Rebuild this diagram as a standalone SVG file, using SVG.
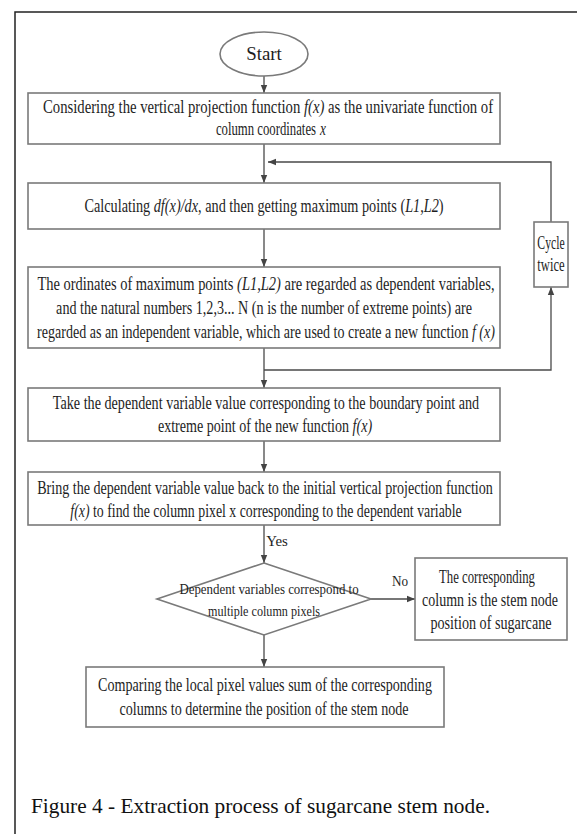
<svg xmlns="http://www.w3.org/2000/svg" width="577" height="834" viewBox="0 0 577 834">
<defs>
<marker id="ah" markerWidth="8" markerHeight="8" refX="8" refY="4" orient="auto" markerUnits="userSpaceOnUse">
<path d="M0,0.8 L8,4 L0,7.2 Z" fill="#444"/>
</marker>
<style>
.box{fill:#fff;stroke:#7a7a7a;stroke-width:1.6}
.t{font-family:"Liberation Serif","Times New Roman",serif;font-size:19px;fill:#1e1e1e;text-anchor:middle}
.s{font-size:15px}
.i{font-style:italic}
.c{fill:none;stroke:#4a4a4a;stroke-width:1.3}
</style>
</defs>
<rect width="577" height="834" fill="#fff"/>
<path d="M15,834 V12 H577" fill="none" stroke="#222" stroke-width="1.5"/>

<g id="connectors">
<line class="c" x1="264" y1="76" x2="264" y2="93" marker-end="url(#ah)"/>
<line class="c" x1="264" y1="144" x2="264" y2="183" marker-end="url(#ah)"/>
<polyline class="c" points="551,222 551,162 268,162" marker-end="url(#ah)"/>
<line class="c" x1="264" y1="229" x2="264" y2="267" marker-end="url(#ah)"/>
<line class="c" x1="264" y1="348" x2="264" y2="388" marker-end="url(#ah)"/>
<polyline class="c" points="264,370 551,370 551,287" marker-end="url(#ah)"/>
<line class="c" x1="264" y1="441" x2="264" y2="472" marker-end="url(#ah)"/>
<line class="c" x1="264" y1="525" x2="264" y2="563" marker-end="url(#ah)"/>
<line class="c" x1="371" y1="599" x2="415" y2="599" marker-end="url(#ah)"/>
<line class="c" x1="264" y1="635" x2="264" y2="667" marker-end="url(#ah)"/>
<text class="t s" transform="translate(277,0) scale(0.7,1)" x="0" y="546" textLength="31" lengthAdjust="spacingAndGlyphs">Yes</text>
<text class="t s" transform="translate(400,0) scale(0.7,1)" x="0" y="586" textLength="23" lengthAdjust="spacingAndGlyphs">No</text>
</g>

<g id="start">
<ellipse cx="264" cy="54" rx="44" ry="22" class="box"/>
<text class="t" transform="translate(264,0) scale(0.7,1)" x="0" y="60" font-size="18" textLength="51" lengthAdjust="spacingAndGlyphs">Start</text>
</g>

<g id="box1">
<rect class="box" x="28" y="93" width="472" height="51"/>
<text class="t" transform="translate(268,0) scale(0.7,1)" x="0" y="113" textLength="643" lengthAdjust="spacingAndGlyphs">Considering the vertical projection function <tspan class="i">f(x)</tspan>  as the univariate function of</text>
<text class="t" transform="translate(316,0) scale(0.7,1)" x="0" y="135" text-anchor="end" style="text-anchor:end" textLength="143" lengthAdjust="spacingAndGlyphs">column coordinates</text>
<text class="t i" transform="translate(320,0) scale(0.7,1)" x="0" y="135" style="text-anchor:start">x</text>
</g>

<g id="box2">
<rect class="box" x="28" y="183" width="472" height="46"/>
<text class="t" transform="translate(264,0) scale(0.7,1)" x="0" y="212" textLength="513" lengthAdjust="spacingAndGlyphs">Calculating <tspan class="i">df(x)/dx</tspan>, and then getting maximum points (<tspan class="i">L1,L2</tspan>)</text>
</g>

<g id="box3">
<rect class="box" x="28" y="267" width="472" height="81"/>
<text class="t" transform="translate(266,0) scale(0.7,1)" x="0" y="290" textLength="653" lengthAdjust="spacingAndGlyphs">The ordinates of maximum points <tspan class="i">(L1,L2)</tspan> are regarded as dependent variables,</text>
<text class="t" transform="translate(264,0) scale(0.7,1)" x="0" y="314" textLength="594" lengthAdjust="spacingAndGlyphs">and the natural numbers 1,2,3... N (n is the number of extreme points) are</text>
<text class="t" transform="translate(266,0) scale(0.7,1)" x="0" y="338" textLength="654" lengthAdjust="spacingAndGlyphs">regarded as an independent variable, which are used to create a new function <tspan class="i">f (x)</tspan></text>
</g>

<g id="cycle">
<rect class="box" x="534" y="222" width="34" height="65"/>
<text class="t" transform="translate(551,0) scale(0.7,1)" x="0" y="249" font-size="17" textLength="39" lengthAdjust="spacingAndGlyphs">Cycle</text>
<text class="t" transform="translate(551,0) scale(0.7,1)" x="0" y="271" font-size="17" textLength="39" lengthAdjust="spacingAndGlyphs">twice</text>
</g>

<g id="box4">
<rect class="box" x="28" y="388" width="472" height="53"/>
<text class="t" transform="translate(266,0) scale(0.7,1)" x="0" y="409" textLength="609" lengthAdjust="spacingAndGlyphs">Take the dependent variable value corresponding to the boundary point and</text>
<text class="t" transform="translate(265,0) scale(0.7,1)" x="0" y="432" textLength="306" lengthAdjust="spacingAndGlyphs">extreme point of the new function <tspan class="i">f(x)</tspan></text>
</g>

<g id="box5">
<rect class="box" x="28" y="472" width="472" height="53"/>
<text class="t" transform="translate(265,0) scale(0.7,1)" x="0" y="494" textLength="651" lengthAdjust="spacingAndGlyphs">Bring the dependent variable value back to the initial vertical projection function</text>
<text class="t" transform="translate(266,0) scale(0.7,1)" x="0" y="517" textLength="559" lengthAdjust="spacingAndGlyphs"><tspan class="i">f(x)</tspan> to find the column pixel x corresponding to the dependent variable</text>
</g>

<g id="decision">
<polygon class="box" points="264,563 371,599 264,635 157,599"/>
<text class="t s" transform="translate(269,0) scale(0.7,1)" x="0" y="594" textLength="256" lengthAdjust="spacingAndGlyphs">Dependent variables correspond to</text>
<text class="t s" transform="translate(264,0) scale(0.7,1)" x="0" y="616" textLength="160" lengthAdjust="spacingAndGlyphs">multiple column pixels</text>
</g>

<g id="result">
<rect class="box" x="415" y="558" width="152" height="82"/>
<text class="t" transform="translate(487,0) scale(0.7,1)" x="0" y="583" textLength="137" lengthAdjust="spacingAndGlyphs">The corresponding</text>
<text class="t" transform="translate(490,0) scale(0.7,1)" x="0" y="606" textLength="194" lengthAdjust="spacingAndGlyphs">column is the stem node</text>
<text class="t" transform="translate(491,0) scale(0.7,1)" x="0" y="629" textLength="173" lengthAdjust="spacingAndGlyphs">position of sugarcane</text>
</g>

<g id="compare">
<rect class="box" x="86" y="667" width="358" height="60"/>
<text class="t" transform="translate(265,0) scale(0.7,1)" x="0" y="691" textLength="477" lengthAdjust="spacingAndGlyphs">Comparing the local pixel values sum of the corresponding</text>
<text class="t" transform="translate(264,0) scale(0.7,1)" x="0" y="715" textLength="413" lengthAdjust="spacingAndGlyphs">columns to determine the position of the stem node</text>
</g>

<text x="31" y="813" font-family="Liberation Serif, Times New Roman, serif" font-size="21" fill="#111" textLength="459" lengthAdjust="spacingAndGlyphs">Figure 4 - Extraction process of sugarcane stem node.</text>
</svg>
